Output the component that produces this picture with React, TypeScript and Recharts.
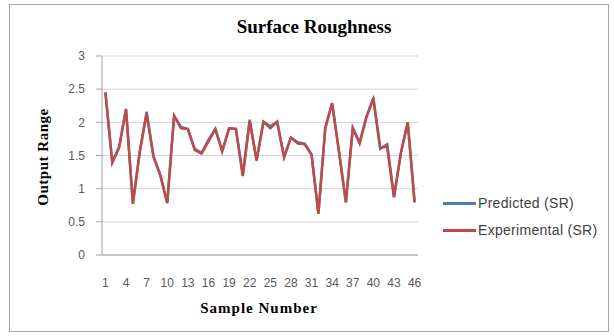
import { CartesianGrid, Line, LineChart, XAxis, YAxis } from "recharts";

const samples = Array.from({ length: 46 }, (_, i) => i + 1);

const predicted = [
  2.45, 1.4, 1.63, 2.2, 0.78, 1.56, 2.16, 1.49, 1.2, 0.79, 2.1, 1.93, 1.9, 1.6,
  1.54, 1.74, 1.9, 1.57, 1.91, 1.9, 1.2, 2.04, 1.43, 2.01, 1.94, 2.01, 1.48,
  1.77, 1.7, 1.68, 1.52, 0.63, 1.92, 2.29, 1.56, 0.8, 1.92, 1.7, 2.09, 2.37,
  1.6, 1.67, 0.88, 1.54, 2.0, 0.8,
];

const experimental = [
  2.45, 1.39, 1.62, 2.2, 0.77, 1.55, 2.13, 1.48, 1.2, 0.78, 2.1, 1.91, 1.9,
  1.58, 1.53, 1.71, 1.9, 1.56, 1.91, 1.9, 1.19, 2.02, 1.42, 2.01, 1.91, 2.01,
  1.47, 1.77, 1.68, 1.67, 1.51, 0.62, 1.91, 2.29, 1.55, 0.79, 1.91, 1.68, 2.08,
  2.35, 1.61, 1.64, 0.87, 1.53, 2.0, 0.79,
];

const yTicks = [0, 0.5, 1, 1.5, 2, 2.5, 3];

const data = samples.map((s, i) => ({
  sample: s,
  predicted: predicted[i],
  experimental: experimental[i],
}));

const BLUE = "#4a7ebb";
const RED = "#be4b48";
const serif = "'Liberation Serif', 'DejaVu Serif', serif";
const sans = "'Liberation Sans', Arial, sans-serif";

const legendItems = [
  { name: "Predicted (SR)", color: BLUE, top: 203 },
  { name: "Experimental (SR)", color: RED, top: 230 },
];

export default function App() {
  return (
    <div
      style={{
        position: "absolute",
        left: 0,
        top: 0,
        width: 614,
        height: 336,
        background: "#fff",
        fontFamily: sans,
      }}
    >
      <div
        style={{
          position: "absolute",
          left: 9,
          top: 4,
          width: 600,
          height: 328,
          border: "1px solid #a6a6a6",
          boxSizing: "border-box",
        }}
      />
      <LineChart
        width={614}
        height={336}
        data={data}
        margin={{ top: 56, right: 196, bottom: 51, left: 72 }}
        style={{ position: "absolute", left: 0, top: 0 }}
      >
        <CartesianGrid vertical={false} stroke="#d4d4d4" />
        <XAxis
          dataKey="sample"
          height={30}
          interval={2}
          padding={{ left: 3.4, right: 3.4 }}
          tickLine={false}
          axisLine={{ stroke: "#a6a6a6" }}
          tickMargin={17}
          tick={{ fontSize: 12, fill: "#595959", fontFamily: sans }}
        />
        <YAxis
          width={30}
          domain={[0, 3]}
          ticks={yTicks}
          interval={0}
          tickSize={6}
          tickMargin={11}
          tickLine={{ stroke: "#a6a6a6" }}
          axisLine={{ stroke: "#a6a6a6" }}
          tick={{ fontSize: 12, fill: "#595959", fontFamily: sans }}
        />
        <Line
          type="linear"
          dataKey="predicted"
          stroke={BLUE}
          strokeWidth={2.5}
          dot={false}
          isAnimationActive={false}
        />
        <Line
          type="linear"
          dataKey="experimental"
          stroke={RED}
          strokeWidth={2.5}
          dot={false}
          isAnimationActive={false}
        />
      </LineChart>
      <div
        style={{
          position: "absolute",
          left: 0,
          width: 628,
          top: 16,
          textAlign: "center",
          fontFamily: serif,
          fontWeight: "bold",
          fontSize: 19,
          color: "#000",
        }}
      >
        Surface Roughness
      </div>
      <div
        style={{
          position: "absolute",
          left: 43,
          top: 157,
          transform: "translate(-50%, -50%) rotate(-90deg)",
          whiteSpace: "nowrap",
          fontFamily: serif,
          fontWeight: "bold",
          fontSize: 15,
          letterSpacing: 0.5,
          color: "#000",
        }}
      >
        Output Range
      </div>
      <div
        style={{
          position: "absolute",
          left: 259,
          top: 308,
          transform: "translate(-50%, -50%)",
          whiteSpace: "nowrap",
          fontFamily: serif,
          fontWeight: "bold",
          fontSize: 15,
          letterSpacing: 1,
          color: "#000",
        }}
      >
        Sample Number
      </div>
      {legendItems.map((it) => (
        <div
          key={it.name}
          style={{
            position: "absolute",
            left: 443,
            top: it.top - 9,
            height: 18,
            display: "flex",
            alignItems: "center",
            whiteSpace: "nowrap",
          }}
        >
          <span
            style={{
              display: "inline-block",
              width: 33,
              height: 3,
              background: it.color,
              marginRight: 2,
            }}
          />
          <span
            style={{
              fontSize: 14,
              letterSpacing: 0.3,
              color: "#404040",
              fontFamily: sans,
            }}
          >
            {it.name}
          </span>
        </div>
      ))}
    </div>
  );
}
